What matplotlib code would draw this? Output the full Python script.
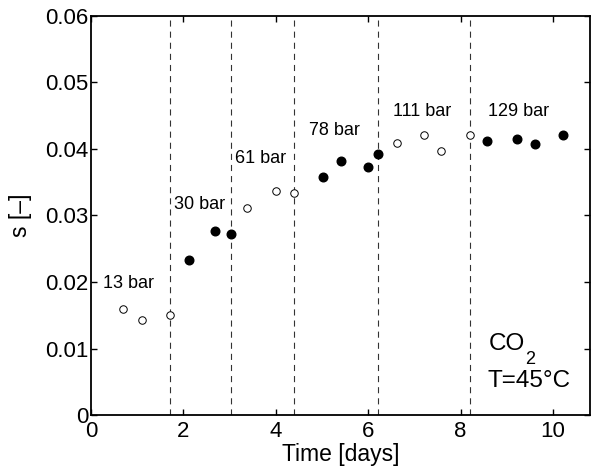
import matplotlib
matplotlib.use("Agg")
import matplotlib.pyplot as plt

plt.rcParams['font.family'] = ['Liberation Sans', 'DejaVu Sans']

# data
open_t = [0.70, 1.11, 1.70, 3.37, 4.00, 4.39, 6.63, 7.21, 7.57, 8.21]
open_s = [0.0160, 0.01435, 0.0151, 0.03115, 0.03375, 0.0334, 0.04085, 0.04205, 0.03975, 0.04205]
filled_t = [2.12, 2.68, 3.02, 5.02, 5.41, 5.99, 6.22, 8.57, 9.22, 9.61, 10.21]
filled_s = [0.02335, 0.0277, 0.02715, 0.0358, 0.03825, 0.03725, 0.0392, 0.04115, 0.04145, 0.04075, 0.04215]
step_times = [1.71, 3.04, 4.39, 6.21, 8.21]
pressure_labels = ["13 bar", "30 bar", "61 bar", "78 bar", "111 bar", "129 bar"]
label_x = [0.25, 1.79, 3.12, 4.72, 6.54, 8.60]
label_y = [0.01975, 0.03165, 0.0385, 0.04275, 0.04565, 0.04565]
xticks = [0, 2, 4, 6, 8, 10]
yticks = [0, 0.01, 0.02, 0.03, 0.04, 0.05, 0.06]

fig = plt.figure(figsize=(5.92, 4.73), dpi=100)
ax = fig.add_axes([0.1537, 0.1226, 0.8429, 0.8436])

for t in step_times:
    ax.axvline(t, color='#333333', lw=0.8, linestyle=(0, (5.5, 4.5)), zorder=1)

ax.plot(open_t, open_s, 'o', mfc='white', mec='black', mew=0.7, ms=5.4, zorder=3)
ax.plot(filled_t, filled_s, 'o', mfc='black', mec='black', ms=6.2, zorder=3)

for lx, ly, txt in zip(label_x, label_y, pressure_labels):
    ax.text(lx, ly, txt, fontsize=13, ha='left', va='center')

ax.text(8.60, 0.01065, 'CO', fontsize=17.5, ha='left', va='center')
ax.text(9.40, 0.0083, '2', fontsize=13, ha='left', va='center')
ax.text(8.59, 0.00513, 'T=45°C', fontsize=17.5, ha='left', va='center')

ax.set_xlim(0, 10.8)
ax.set_ylim(0, 0.06)
ax.set_xticks(xticks)
ax.set_yticks(yticks)
ax.set_xticklabels([str(v) for v in xticks])
ax.set_yticklabels(['0', '0.01', '0.02', '0.03', '0.04', '0.05', '0.06'])
ax.tick_params(direction='in', top=True, right=True, length=4, width=1, labelsize=16, pad=2)
ax.tick_params(axis='x', pad=4)
for s in ax.spines.values():
    s.set_linewidth(1.3)
ax.set_xlabel('Time [days]', fontsize=16.5, labelpad=1)
ax.set_ylabel('s [–]', fontsize=16.5, labelpad=9)

fig.savefig('out.png', dpi=100)
